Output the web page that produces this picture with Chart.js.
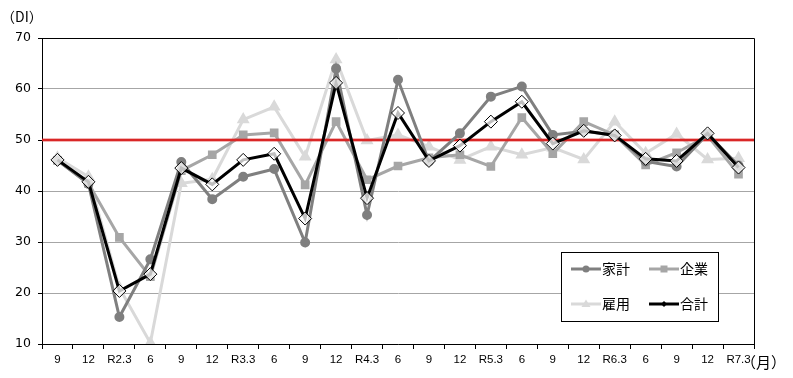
<!DOCTYPE html>
<html><head><meta charset="utf-8">
<script src="https://cdn.jsdelivr.net/npm/chart.js@4/dist/chart.umd.min.js"></script>
<style>html,body{margin:0;padding:0;background:#fff;}#wrap{width:793px;height:378px;position:relative;}</style>
</head><body><div id="wrap"><canvas id="c" width="793" height="378"></canvas></div>
<script>
const categories = ['9','12','R2.3','6','9','12','R3.3','6','9','12','R4.3','6','9','12','R5.3','6','9','12','R6.3','6','9','12','R7.3'];
const kakei  = [46.0,41.4,15.3,26.6,45.7,38.4,42.8,44.3,29.9,64.0,35.3,61.8,45.8,51.3,58.5,60.5,51.0,51.7,51.0,45.8,44.8,51.2,45.0];
const kigyo  = [46.0,41.5,30.9,23.2,44.0,47.1,51.0,51.4,41.2,53.6,42.2,44.9,46.5,47.1,44.8,54.4,47.3,53.6,51.0,45.1,47.5,50.8,43.3];
const koyo   = [46.5,42.8,21.0,10.2,41.5,42.3,54.0,56.5,46.7,65.8,49.9,51.0,48.7,46.1,48.7,47.1,48.5,46.2,53.6,47.4,51.2,46.2,46.4];
const gokei  = [46.1,41.8,20.4,23.7,44.5,41.3,46.1,47.3,34.6,61.2,38.6,55.3,45.9,48.9,53.6,57.5,49.3,51.8,50.9,46.3,45.9,51.3,44.6];
const yTicks = [10,20,30,40,50,60,70];
const refLine = 50;

const cjk = '"Noto Sans CJK JP", "Noto Sans CJK SC", sans-serif';

const overlay = {
  id: 'overlay',
  beforeDatasetsDraw(chart) {
    const {ctx, chartArea: a} = chart;
    ctx.save();
    ctx.strokeStyle = '#000'; ctx.lineWidth = 1;
    ctx.beginPath();
    ctx.moveTo(a.left, a.top + 0.5); ctx.lineTo(a.right + 0.5, a.top + 0.5);
    ctx.lineTo(a.right + 0.5, a.bottom);
    ctx.stroke();
    ctx.restore();
  },
  afterDatasetDraw(chart, args) {
    if (args.index !== 1) return;
    const {ctx, chartArea: a, scales} = chart;
    const y = scales.y.getPixelForValue(refLine);
    ctx.save();
    ctx.strokeStyle = 'rgba(221,40,40,0.35)'; ctx.lineWidth = 4;
    ctx.beginPath(); ctx.moveTo(a.left, y); ctx.lineTo(a.right, y); ctx.stroke();
    ctx.strokeStyle = '#d92626'; ctx.lineWidth = 2;
    ctx.beginPath(); ctx.moveTo(a.left, y); ctx.lineTo(a.right, y); ctx.stroke();
    ctx.restore();
  },
  afterDraw(chart) {
    const {ctx} = chart;
    ctx.save();
    ctx.fillStyle = '#000';
    ctx.font = '14px ' + cjk;
    ctx.textBaseline = 'middle';
    ctx.fillText('（DI）', 1, 17);
    ctx.font = '15px ' + cjk;
    ctx.fillText('（月）', 741, 362);
    // legend box
    const bx = 561, by = 252, bw = 157, bh = 69;
    ctx.fillStyle = '#fff';
    ctx.fillRect(bx, by, bw, bh);
    ctx.strokeStyle = '#000'; ctx.lineWidth = 1;
    ctx.strokeRect(bx + 0.5, by + 0.5, bw, bh);
    const items = [
      {i: 0, x: 571, y: 269}, {i: 1, x: 649, y: 269},
      {i: 2, x: 571, y: 304}, {i: 3, x: 649, y: 304}
    ];
    items.forEach(it => {
      const ds = chart.data.datasets[it.i];
      const lw = 30;
      ctx.strokeStyle = ds.borderColor; ctx.lineWidth = 3;
      ctx.beginPath(); ctx.moveTo(it.x, it.y); ctx.lineTo(it.x + lw, it.y); ctx.stroke();
      const cx = it.x + lw / 2;
      ctx.fillStyle = ds.borderColor;
      ctx.beginPath();
      if (ds.pointStyle === 'circle') ctx.arc(cx, it.y, 3.5, 0, Math.PI * 2);
      else if (ds.pointStyle === 'rect') ctx.rect(cx - 3.5, it.y - 3.5, 7, 7);
      else if (ds.pointStyle === 'triangle') { ctx.moveTo(cx, it.y - 4.5); ctx.lineTo(cx + 4.5, it.y + 3); ctx.lineTo(cx - 4.5, it.y + 3); ctx.closePath(); }
      else { ctx.moveTo(cx, it.y - 3); ctx.lineTo(cx + 3, it.y); ctx.lineTo(cx, it.y + 3); ctx.lineTo(cx - 3, it.y); ctx.closePath(); }
      ctx.fill();
      ctx.fillStyle = '#000';
      ctx.font = '14px ' + cjk;
      ctx.textBaseline = 'middle';
      ctx.fillText(ds.label, it.x + lw + 1, it.y);
    });
    ctx.restore();
  }
};

new Chart(document.getElementById('c'), {
  type: 'line',
  data: {
    labels: categories,
    datasets: [
      {label: '家計', data: kakei, borderColor: '#7f7f7f', backgroundColor: '#7f7f7f', pointBackgroundColor: '#7f7f7f', pointBorderColor: '#7f7f7f', pointStyle: 'circle', pointRadius: 3.5, borderWidth: 3, order: 1},
      {label: '企業', data: kigyo, borderColor: '#a6a6a6', backgroundColor: '#a6a6a6', pointBackgroundColor: '#a6a6a6', pointBorderColor: '#a6a6a6', pointStyle: 'rect', pointRadius: 4, borderWidth: 3, order: 2},
      {label: '雇用', data: koyo, borderColor: '#d9d9d9', backgroundColor: '#d9d9d9', pointBackgroundColor: '#d9d9d9', pointBorderColor: '#d9d9d9', pointStyle: 'triangle', pointRadius: 4.5, borderWidth: 3, order: 3},
      {label: '合計', data: gokei, borderColor: '#000', backgroundColor: '#000', pointBackgroundColor: 'rgba(255,255,255,0.75)', pointBorderColor: '#000', pointBorderWidth: 1, pointStyle: 'rectRot', pointRadius: 6.5, borderWidth: 3, order: 0}
    ]
  },
  options: {
    responsive: false,
    animation: false,
    events: [],
    layout: {padding: {left: 0, right: 39, top: 38, bottom: 0}},
    plugins: {legend: {display: false}, tooltip: {enabled: false}},
    elements: {line: {tension: 0}},
    scales: {
      x: {
        offset: true,
        grid: {offset: true, drawOnChartArea: false, drawTicks: true, tickLength: 5, tickColor: '#000'},
        border: {color: '#000', width: 1},
        ticks: {color: '#000', font: {family: '"Liberation Sans", Arial, sans-serif', size: 11.5}, padding: 4, maxRotation: 0, autoSkip: false},
        afterFit(s) { s.height = 34; }
      },
      y: {
        min: 10, max: 70,
        afterBuildTicks(s) { s.ticks = yTicks.map(v => ({value: v})); },
        grid: {color: '#a6a6a6', lineWidth: 1, tickLength: 4, tickColor: '#000', drawTicks: true},
        border: {color: '#000', width: 1},
        ticks: {color: '#000', font: {family: '"DejaVu Sans", sans-serif', size: 12.5}, padding: 7},
        afterFit(s) { s.width = 42; }
      }
    }
  },
  plugins: [overlay]
});
</script></body></html>
